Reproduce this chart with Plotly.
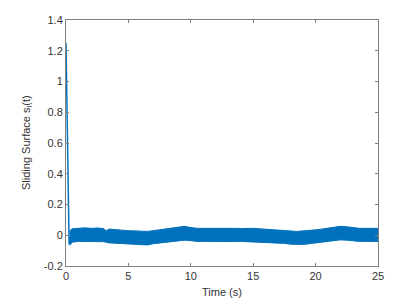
import plotly.graph_objects as go

# Initial transient of the sliding surface
t_transient = [0.0, 0.05, 0.25, 0.3]
s_transient = [1.25, 1.0, -0.06, -0.01]

# Chattering band envelope (after the transient)
t_band = [0.3, 0.5, 1.0, 1.5, 2.0, 2.5, 3.0, 3.2, 3.5, 4.0, 4.5, 5.0, 5.5, 6.0, 6.5,
          7.0, 7.5, 8.0, 8.5, 9.0, 9.5, 10.0, 10.5, 11.0, 11.5, 12.0, 12.5, 13.0,
          13.5, 14.0, 14.5, 15.0, 15.5, 16.0, 16.5, 17.0, 17.5, 18.0, 18.5, 19.0,
          19.5, 20.0, 20.5, 21.0, 21.5, 22.0, 22.5, 23.0, 23.5, 24.0, 24.5, 25.0]
s_upper = [0.03, 0.042, 0.045, 0.048, 0.045, 0.047, 0.044, 0.03, 0.04, 0.035, 0.033,
           0.03, 0.028, 0.025, 0.025, 0.03, 0.035, 0.04, 0.045, 0.05, 0.058, 0.05,
           0.045, 0.045, 0.046, 0.044, 0.045, 0.046, 0.045, 0.044, 0.045, 0.045,
           0.042, 0.04, 0.038, 0.035, 0.032, 0.028, 0.025, 0.027, 0.03, 0.035, 0.04,
           0.045, 0.05, 0.058, 0.055, 0.048, 0.045, 0.045, 0.047, 0.045]
s_lower = [-0.065, -0.045, -0.04, -0.04, -0.042, -0.04, -0.042, -0.045, -0.05, -0.052,
           -0.055, -0.055, -0.058, -0.062, -0.063, -0.055, -0.05, -0.045, -0.04,
           -0.035, -0.032, -0.035, -0.04, -0.04, -0.041, -0.04, -0.042, -0.04, -0.041,
           -0.04, -0.042, -0.04, -0.042, -0.045, -0.047, -0.05, -0.053, -0.058, -0.06,
           -0.06, -0.055, -0.05, -0.047, -0.043, -0.038, -0.03, -0.032, -0.038, -0.04,
           -0.04, -0.04, -0.04]

x_ticks = [0, 5, 10, 15, 20, 25]
y_ticks = [-0.2, 0, 0.2, 0.4, 0.6, 0.8, 1, 1.2, 1.4]
y_tick_labels = ["-0.2", "0", "0.2", "0.4", "0.6", "0.8", "1", "1.2", "1.4"]
x_title = "Time (s)"
y_title = "Sliding Surface s<sub>l</sub>(t)"

blue = "#0072BD"
text_color = "#333333"
font_family = "Liberation Sans, Arial"

fig = go.Figure()
fig.add_trace(go.Scatter(x=t_band, y=s_lower, mode="lines",
                         line=dict(color=blue, width=1), showlegend=False,
                         hoverinfo="skip"))
fig.add_trace(go.Scatter(x=t_band, y=s_upper, mode="lines", fill="tonexty",
                         fillcolor=blue, line=dict(color=blue, width=1),
                         showlegend=False))
fig.add_trace(go.Scatter(x=t_transient, y=s_transient, mode="lines",
                         line=dict(color=blue, width=1.5), showlegend=False))

axis_common = dict(
    showgrid=False, zeroline=False, showline=True, mirror="ticks",
    linecolor="#808080", linewidth=1, ticks="inside", ticklen=3,
    tickcolor="#808080", automargin=False,
    tickfont=dict(family=font_family, size=11, color=text_color),
)

fig.update_layout(
    width=395, height=296,
    margin=dict(l=58, r=25, t=12, b=38),
    paper_bgcolor="white", plot_bgcolor="white",
    font=dict(family=font_family, color=text_color),
    xaxis=dict(range=[0, 25], tickvals=x_ticks, **axis_common),
    yaxis=dict(range=[-0.2, 1.4], tickvals=y_ticks, ticktext=y_tick_labels,
               **axis_common),
    annotations=[
        dict(text=x_title, x=0.5, y=0, xref="paper", yref="paper",
             xanchor="center", yanchor="middle", yshift=-26, showarrow=False,
             font=dict(size=11, family=font_family, color=text_color)),
        dict(text=y_title, x=0, y=0.5, xref="paper", yref="paper",
             xanchor="center", yanchor="middle", xshift=-39, textangle=-90,
             showarrow=False,
             font=dict(size=11, family=font_family, color=text_color)),
    ],
)

fig.write_html("out.html")
